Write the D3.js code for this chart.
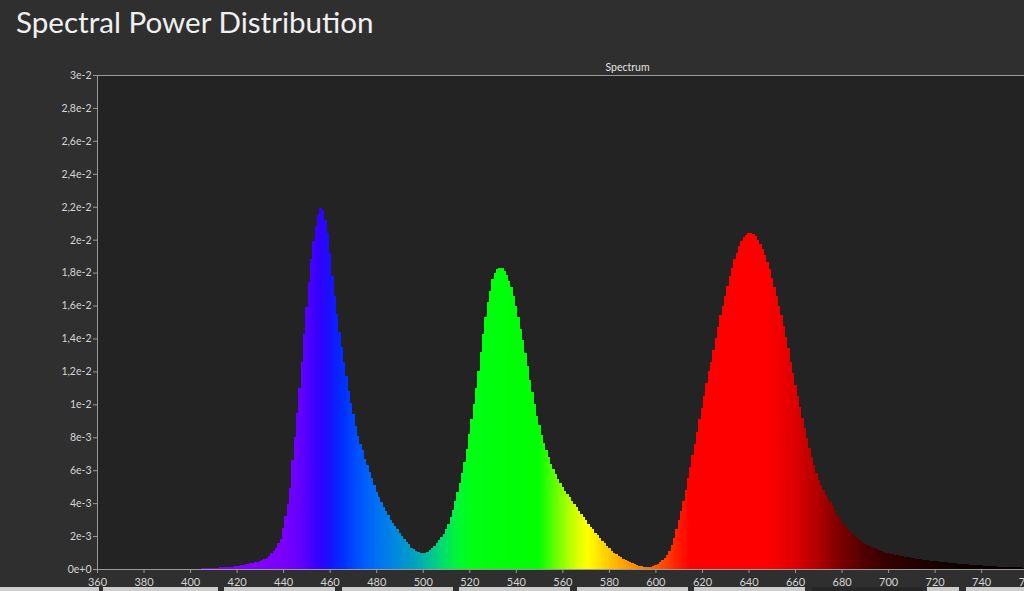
<!DOCTYPE html>
<html>
<head>
<meta charset="utf-8">
<title>Spectral Power Distribution</title>
<script src="https://cdn.jsdelivr.net/npm/d3@7"></script>
<style>
  html, body { margin: 0; padding: 0; background: #2f2f2f; overflow: hidden; }
  .chart__title { font-family: Lato, sans-serif; font-size: 29.6px; fill: #f0f0f0; }
  .chart__subtitle { font-family: Lato, sans-serif; font-size: 10.5px; fill: #e4e4e4; }
  .chart__axis text { font-family: Lato, sans-serif; font-size: 11px; fill: #d4d4d4; }
  .chart__axis path, .chart__axis line { stroke: #9a9a9a; }
  .chart__bar { shape-rendering: crispEdges; }
</style>
</head>
<body>
<div id="chart"></div>
<script>
// first sample wavelength (nm), samples are 1 nm apart
const startNm = 400;

// spectral power per 1 nm bin, in units of 1e-3
const powerMilli = [
  // 400 - 439
  0.02, 0.02, 0.03, 0.03, 0.03, 0.04, 0.04, 0.05, 0.05, 0.06,
  0.07, 0.08, 0.09, 0.10, 0.11, 0.12, 0.13, 0.14, 0.15, 0.17,
  0.18, 0.20, 0.22, 0.25, 0.28, 0.31, 0.34, 0.37, 0.40, 0.43,
  0.47, 0.52, 0.58, 0.67, 0.80, 0.95, 1.10, 1.30, 1.55, 1.85,
  // 440 - 479
  2.50, 3.20, 3.95, 4.90, 6.60, 8.00, 9.50, 11.0, 12.6, 14.3,
  15.9, 17.4, 18.8, 19.9, 20.8, 21.5, 21.9, 21.8, 21.2, 20.4,
  19.2, 17.8, 16.6, 15.5, 14.4, 13.5, 12.6, 11.7, 10.8, 10.1,
  9.40, 8.70, 8.10, 7.60, 7.20, 6.70, 6.30, 5.90, 5.50, 5.10,
  // 480 - 519
  4.70, 4.35, 4.05, 3.75, 3.50, 3.25, 3.00, 2.80, 2.60, 2.40,
  2.20, 2.00, 1.80, 1.65, 1.50, 1.30, 1.20, 1.10, 1.05, 1.00,
  0.99, 1.00, 1.05, 1.15, 1.30, 1.40, 1.55, 1.75, 1.95, 2.15,
  2.40, 2.75, 3.15, 3.60, 4.10, 4.65, 5.25, 5.85, 6.50, 7.30,
  // 520 - 559
  8.20, 9.10, 10.0, 11.0, 12.0, 13.2, 14.3, 15.3, 16.2, 16.9,
  17.6, 17.95, 18.2, 18.3, 18.25, 18.1, 17.85, 17.5, 17.1, 16.6,
  16.0, 15.3, 14.6, 13.9, 13.1, 12.3, 11.5, 10.75, 10.0, 9.30,
  8.75, 8.15, 7.65, 7.20, 6.80, 6.40, 6.05, 5.75, 5.45, 5.20,
  // 560 - 599
  4.95, 4.75, 4.55, 4.35, 4.15, 3.95, 3.75, 3.55, 3.35, 3.15,
  2.95, 2.75, 2.55, 2.40, 2.20, 2.05, 1.90, 1.70, 1.55, 1.40,
  1.25, 1.10, 1.00, 0.90, 0.80, 0.70, 0.62, 0.55, 0.48, 0.42,
  0.36, 0.31, 0.27, 0.20, 0.17, 0.15, 0.14, 0.14, 0.15, 0.18,
  // 600 - 639
  0.24, 0.30, 0.40, 0.52, 0.65, 0.85, 1.10, 1.45, 1.90, 2.40,
  2.95, 3.50, 4.10, 4.80, 5.50, 6.20, 6.90, 7.60, 8.30, 9.10,
  9.80, 10.5, 11.3, 12.0, 12.6, 13.3, 14.0, 14.7, 15.4, 16.0,
  16.6, 17.2, 17.8, 18.3, 18.8, 19.2, 19.6, 19.9, 20.15, 20.3,
  // 640 - 679
  20.4, 20.4, 20.35, 20.2, 20.0, 19.75, 19.45, 19.05, 18.65, 18.2,
  17.7, 17.15, 16.55, 16.0, 15.4, 14.75, 14.1, 13.4, 12.6, 11.9,
  11.2, 10.5, 9.85, 9.20, 8.55, 7.95, 7.35, 6.80, 6.30, 5.80,
  5.40, 5.10, 4.80, 4.50, 4.25, 4.05, 3.80, 3.55, 3.30, 3.05,
  // 680 - 719
  2.85, 2.65, 2.50, 2.35, 2.20, 2.05, 1.93, 1.80, 1.68, 1.58,
  1.50, 1.43, 1.37, 1.32, 1.26, 1.20, 1.15, 1.10, 1.05, 1.00,
  0.96, 0.93, 0.90, 0.87, 0.84, 0.81, 0.78, 0.75, 0.72, 0.70,
  0.67, 0.65, 0.63, 0.60, 0.58, 0.56, 0.54, 0.52, 0.50, 0.49,
  // 720 - 760
  0.47, 0.46, 0.44, 0.43, 0.41, 0.40, 0.38, 0.37, 0.35, 0.34,
  0.33, 0.32, 0.30, 0.29, 0.28, 0.27, 0.26, 0.25, 0.24, 0.23,
  0.22, 0.21, 0.20, 0.19, 0.18, 0.17, 0.16, 0.15, 0.14, 0.14,
  0.13, 0.12, 0.12, 0.11, 0.11, 0.10, 0.10, 0.10, 0.09, 0.09,
  0.09
];

const xTickValues = [360, 380, 400, 420, 440, 460, 480, 500, 520, 540, 560,
  580, 600, 620, 640, 660, 680, 700, 720, 740, 760, 780, 800];
const yTickValues = [0, 0.002, 0.004, 0.006, 0.008, 0.01, 0.012, 0.014, 0.016,
  0.018, 0.02, 0.022, 0.024, 0.026, 0.028, 0.03];

// wavelength -> fill colour
const colorStopsNm = [380, 420, 440, 448, 455, 460, 466, 472, 480, 488, 496, 502,
  508, 514, 520, 550, 556, 562, 567, 571, 578, 586, 596, 603, 609, 615,
  648, 660, 670, 680, 690, 700, 720, 740, 780];
const colorStops = ['#7000c8', '#8400ff', '#7c00ff', '#6000ff', '#3400ff', '#1a10ff',
  '#0030ff', '#0050ff', '#0070f4', '#0088e0', '#00a0c0', '#00bca0',
  '#00dc70', '#00f440', '#00ff14', '#00ff00', '#58ff00', '#a8ff00', '#e0ff00', '#ffff00',
  '#ffd400', '#ffa400', '#ff7400', '#ff4c00', '#ff2000', '#ff0000',
  '#ff0000', '#dc0000', '#b00000', '#780000', '#500000', '#340000', '#180000',
  '#0a0000', '#040000'];

const footerTabs = [[0, 99], [103, 218], [224, 335], [342, 453], [459, 570],
  [577, 688], [694, 805], [812, 923, true], [927, 959], [966, 1024]];

const defaults = {
  width : 1024,
  height: 591,
  margin: {
    top   : 75,
    left  : 97,
    bottom: 22
  },
  plotWidth: 1061,
  domainX: [360, 816],
  domainY: [0, 0.03],
  tickSize: 4
};

class SpectrumChart {

  constructor (element, options) {
    Object.assign(this, defaults, options);
    this.element = element;
    this.init();
  }

  init() {
    const { margin, tickSize } = this;
    const innerHeight = this.height - margin.top - margin.bottom;

    const svg = this.svg = d3.select(this.element)
      .append('svg')
        .attr('width', this.width)
        .attr('height', this.height)
        .style('display', 'block');

    svg.append('text')
      .attr('class', 'chart__title')
      .attr('x', 16)
      .attr('y', 33)
      .text('Spectral Power Distribution');

    svg.append('text')
      .attr('class', 'chart__subtitle')
      .attr('x', margin.left + this.plotWidth / 2)
      .attr('y', 71)
      .attr('text-anchor', 'middle')
      .text('Spectrum');

    const plot = this.plot = svg.append('g')
      .attr('transform', `translate(${margin.left}, ${margin.top})`);

    plot.append('rect')
      .attr('class', 'chart__background')
      .attr('width', this.plotWidth)
      .attr('height', innerHeight)
      .attr('fill', '#232323');

    this.scaleX = d3.scaleLinear()
      .domain(this.domainX)
      .range([0, this.plotWidth]);

    this.scaleY = d3.scaleLinear()
      .domain(this.domainY)
      .range([innerHeight, 0]);

    this.color = d3.scaleLinear()
      .domain(colorStopsNm)
      .range(colorStops)
      .clamp(true);

    this.xAxis = d3.axisBottom(this.scaleX)
      .tickValues(xTickValues)
      .tickSize(tickSize)
      .tickSizeOuter(0)
      .tickPadding(5)
      .tickFormat(d3.format('d'));

    const fmt = d3.format('.1~e');
    this.yAxis = d3.axisLeft(this.scaleY)
      .tickValues(yTickValues)
      .tickSize(tickSize)
      .tickSizeOuter(0)
      .tickPadding(1.5)
      .tickFormat(d => fmt(d).replace('.', ','));

    this.innerHeight = innerHeight;
  }

  renderBars(data) {
    const { plot, scaleX, scaleY, color } = this;

    plot.append('g')
      .attr('class', 'chart__bars')
      .selectAll('.chart__bar')
      .data(data)
      .enter()
      .append('rect')
        .attr('class', 'chart__bar')
        .attr('x', d => scaleX(d.nm - 0.5))
        .attr('width', d => scaleX(d.nm + 0.5) - scaleX(d.nm - 0.5) + 0.5)
        .attr('y', d => scaleY(d.value))
        .attr('height', d => scaleY(0) - scaleY(d.value))
        .attr('fill', d => color(d.nm));
  }

  renderAxis() {
    const { plot, innerHeight } = this;

    plot.append('line')
      .attr('class', 'chart__frame')
      .attr('x1', 0)
      .attr('x2', this.plotWidth)
      .attr('y1', 0.5)
      .attr('y2', 0.5)
      .attr('stroke', '#9a9a9a');

    plot.append('g')
      .attr('class', 'chart__axis chart__axis--x')
      .attr('transform', `translate(0, ${innerHeight})`)
      .call(this.xAxis);

    plot.append('g')
      .attr('class', 'chart__axis chart__axis--y')
      .call(this.yAxis)
      .selectAll('text')
        .style('font-size', '10.5px');
  }

  renderFooter() {
    this.svg.append('g')
      .attr('class', 'chart__tabs')
      .selectAll('rect')
      .data(footerTabs)
      .enter()
      .append('rect')
        .attr('x', d => d[0])
        .attr('width', d => d[1] - d[0])
        .attr('y', 587)
        .attr('height', 6)
        .attr('fill', d => d[2] ? '#262626' : '#cdcdcd');
  }

  render(values) {
    const data = values.map((v, i) => ({ nm: startNm + i, value: v * 1e-3 }));
    this.renderBars(data);
    this.renderAxis();
    this.renderFooter();
  }

}

const chart = new SpectrumChart(document.getElementById('chart'));
chart.render(powerMilli);
</script>
</body>
</html>
